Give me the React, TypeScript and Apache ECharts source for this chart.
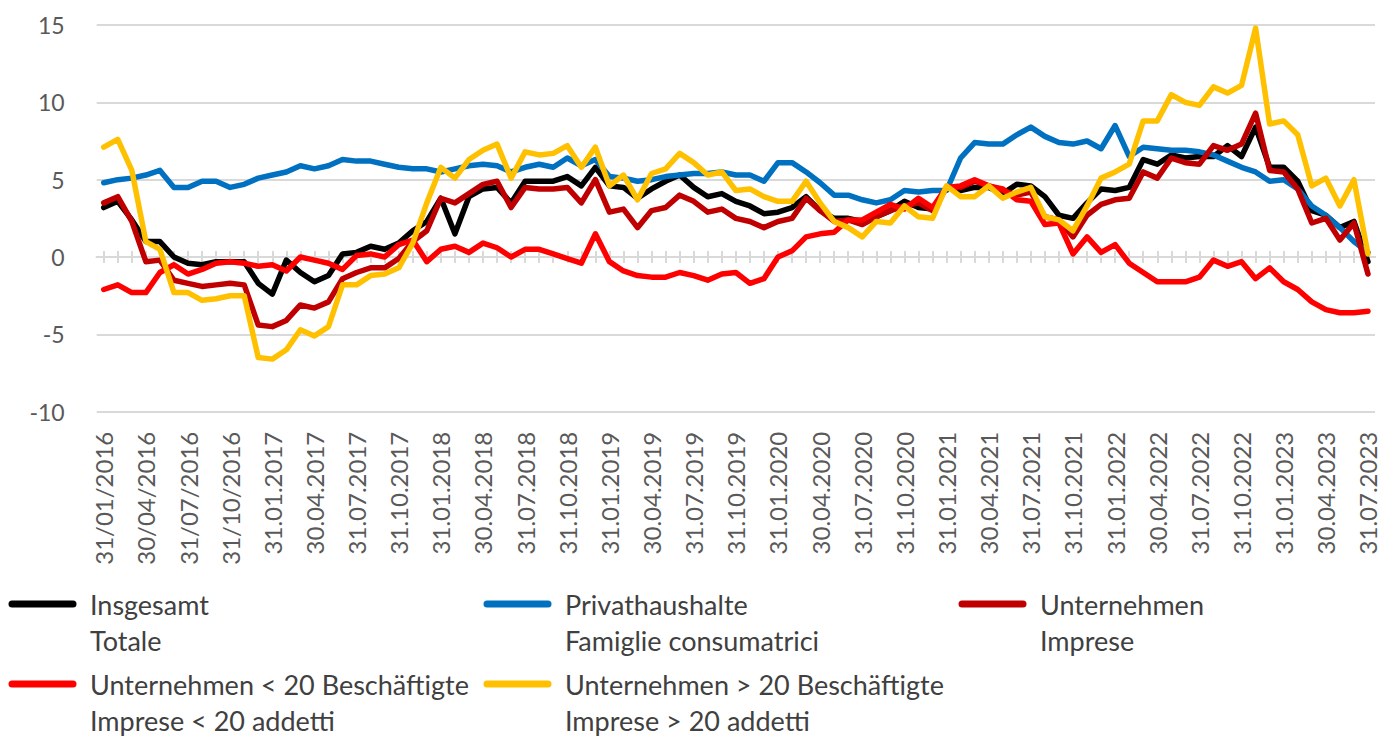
import React, { useEffect, useRef } from 'react';
import * as echarts from 'echarts';

const dates2016 = ['31/01/2016', '29/02/2016', '31/03/2016', '30/04/2016', '31/05/2016', '30/06/2016', '31/07/2016', '31/08/2016', '30/09/2016', '31/10/2016', '30/11/2016', '31/12/2016'];
const dates2017 = ['31.01.2017', '28.02.2017', '31.03.2017', '30.04.2017', '31.05.2017', '30.06.2017', '31.07.2017', '31.08.2017', '30.09.2017', '31.10.2017', '30.11.2017', '31.12.2017'];
const dates2018 = ['31.01.2018', '28.02.2018', '31.03.2018', '30.04.2018', '31.05.2018', '30.06.2018', '31.07.2018', '31.08.2018', '30.09.2018', '31.10.2018', '30.11.2018', '31.12.2018'];
const dates2019 = ['31.01.2019', '28.02.2019', '31.03.2019', '30.04.2019', '31.05.2019', '30.06.2019', '31.07.2019', '31.08.2019', '30.09.2019', '31.10.2019', '30.11.2019', '31.12.2019'];
const dates2020 = ['31.01.2020', '29.02.2020', '31.03.2020', '30.04.2020', '31.05.2020', '30.06.2020', '31.07.2020', '31.08.2020', '30.09.2020', '31.10.2020', '30.11.2020', '31.12.2020'];
const dates2021 = ['31.01.2021', '28.02.2021', '31.03.2021', '30.04.2021', '31.05.2021', '30.06.2021', '31.07.2021', '31.08.2021', '30.09.2021', '31.10.2021', '30.11.2021', '31.12.2021'];
const dates2022 = ['31.01.2022', '28.02.2022', '31.03.2022', '30.04.2022', '31.05.2022', '30.06.2022', '31.07.2022', '31.08.2022', '30.09.2022', '31.10.2022', '30.11.2022', '31.12.2022'];
const dates2023 = ['31.01.2023', '28.02.2023', '31.03.2023', '30.04.2023', '31.05.2023', '30.06.2023', '31.07.2023'];
const categories = [...dates2016, ...dates2017, ...dates2018, ...dates2019, ...dates2020, ...dates2021, ...dates2022, ...dates2023];

// Insgesamt / Totale
const insgesamt = [
  3.2, 3.6, 2.4, 1.0, 1.0, 0.0, -0.4, -0.5, -0.3, -0.3, -0.3, -1.7,
  -2.4, -0.2, -1.0, -1.6, -1.2, 0.2, 0.3, 0.7, 0.5, 0.9, 1.7, 2.3,
  3.8, 1.5, 3.9, 4.4, 4.5, 3.5, 4.9, 4.9, 4.9, 5.2, 4.6, 5.8,
  4.6, 4.5, 3.8, 4.4, 4.9, 5.3, 4.5, 3.9, 4.1, 3.6, 3.3, 2.8,
  2.9, 3.2, 3.9, 3.0, 2.5, 2.5, 2.3, 2.6, 3.0, 3.6, 3.2, 3.1,
  4.5, 4.3, 4.5, 4.5, 4.1, 4.7, 4.6, 3.9, 2.7, 2.5, 3.5, 4.4,
  4.3, 4.5, 6.3, 6.0, 6.6, 6.4, 6.5, 6.5, 7.2, 6.5, 8.4, 5.8,
  5.8, 4.9, 3.0, 2.7, 1.9, 2.3, -0.3,
];
// Privathaushalte / Famiglie consumatrici
const privathaushalte = [
  4.8, 5.0, 5.1, 5.3, 5.6, 4.5, 4.5, 4.9, 4.9, 4.5, 4.7, 5.1,
  5.3, 5.5, 5.9, 5.7, 5.9, 6.3, 6.2, 6.2, 6.0, 5.8, 5.7, 5.7,
  5.5, 5.7, 5.9, 6.0, 5.9, 5.5, 5.8, 6.0, 5.8, 6.4, 5.9, 6.3,
  5.2, 5.1, 4.9, 5.0, 5.2, 5.3, 5.4, 5.4, 5.5, 5.3, 5.3, 4.9,
  6.1, 6.1, 5.5, 4.8, 4.0, 4.0, 3.7, 3.5, 3.7, 4.3, 4.2, 4.3,
  4.3, 6.4, 7.4, 7.3, 7.3, 7.9, 8.4, 7.8, 7.4, 7.3, 7.5, 7.0,
  8.5, 6.5, 7.1, 7.0, 6.9, 6.9, 6.8, 6.6, 6.2, 5.8, 5.5, 4.9,
  5.0, 4.4, 3.3, 2.7, 1.9, 1.0, 0.3,
];
// Unternehmen / Imprese
const unternehmen = [
  3.5, 3.9, 2.3, -0.3, -0.2, -1.5, -1.7, -1.9, -1.8, -1.7, -1.8, -4.4,
  -4.5, -4.1, -3.1, -3.3, -2.9, -1.4, -1.0, -0.7, -0.7, -0.1, 1.0, 1.7,
  3.8, 3.5, 4.1, 4.7, 4.9, 3.2, 4.5, 4.4, 4.4, 4.5, 3.5, 5.0,
  2.9, 3.1, 1.9, 3.0, 3.2, 4.0, 3.6, 2.9, 3.1, 2.5, 2.3, 1.9,
  2.3, 2.5, 3.8, 3.0, 2.3, 2.4, 2.1, 2.6, 3.0, 3.3, 3.5, 3.0,
  4.5, 4.5, 4.9, 4.6, 4.3, 4.0, 4.2, 2.6, 2.4, 1.3, 2.7, 3.4,
  3.7, 3.8, 5.5, 5.1, 6.4, 6.1, 6.0, 7.2, 6.9, 7.3, 9.3, 5.6,
  5.5, 4.4, 2.2, 2.5, 1.1, 2.2, -1.1,
];
// Unternehmen < 20 Beschäftigte / Imprese < 20 addetti
const unternehmenKlein = [
  -2.1, -1.8, -2.3, -2.3, -1.0, -0.5, -1.1, -0.8, -0.4, -0.3, -0.4, -0.6,
  -0.5, -0.9, 0.0, -0.2, -0.4, -0.8, 0.1, 0.2, 0.0, 0.8, 1.1, -0.3,
  0.5, 0.7, 0.3, 0.9, 0.6, 0.0, 0.5, 0.5, 0.2, -0.1, -0.4, 1.5,
  -0.3, -0.9, -1.2, -1.3, -1.3, -1.0, -1.2, -1.5, -1.1, -1.0, -1.7, -1.4,
  0.0, 0.4, 1.3, 1.5, 1.6, 2.4, 2.4, 2.9, 3.4, 3.1, 3.8, 3.2,
  4.5, 4.6, 5.0, 4.6, 4.4, 3.7, 3.6, 2.1, 2.2, 0.2, 1.3, 0.3,
  0.8, -0.4, -1.0, -1.6, -1.6, -1.6, -1.3, -0.2, -0.6, -0.3, -1.4, -0.7,
  -1.6, -2.1, -2.9, -3.4, -3.6, -3.6, -3.5,
];
// Unternehmen > 20 Beschäftigte / Imprese > 20 addetti
const unternehmenGross = [
  7.1, 7.6, 5.6, 1.0, 0.5, -2.3, -2.3, -2.8, -2.7, -2.5, -2.5, -6.5,
  -6.6, -6.0, -4.7, -5.1, -4.5, -1.8, -1.8, -1.2, -1.1, -0.7, 0.9, 3.5,
  5.8, 5.1, 6.3, 6.9, 7.3, 5.1, 6.8, 6.6, 6.7, 7.2, 5.8, 7.1,
  4.6, 5.3, 3.7, 5.4, 5.7, 6.7, 6.1, 5.3, 5.5, 4.3, 4.4, 3.9,
  3.6, 3.6, 4.9, 3.5, 2.3, 1.9, 1.3, 2.3, 2.2, 3.3, 2.6, 2.5,
  4.6, 3.9, 3.9, 4.6, 3.8, 4.2, 4.5, 2.6, 2.4, 1.7, 3.3, 5.1,
  5.5, 6.0, 8.8, 8.8, 10.5, 10.0, 9.8, 11.0, 10.6, 11.1, 14.8, 8.6,
  8.8, 7.9, 4.6, 5.1, 3.3, 5.0, 0.2,
];

const seriesNames = [
  'Insgesamt',
  'Privathaushalte',
  'Unternehmen',
  'Unternehmen < 20 Beschäftigte',
  'Unternehmen > 20 Beschäftigte',
];
const seriesSubNames = [
  'Totale',
  'Famiglie consumatrici',
  'Imprese',
  'Imprese < 20 addetti',
  'Imprese > 20 addetti',
];
const seriesColors = ['#000000', '#0070C0', '#C00000', '#FF0000', '#FFC000'];
const seriesData = [insgesamt, privathaushalte, unternehmen, unternehmenKlein, unternehmenGross];

const FONT = 'Lato, "Noto Sans", sans-serif';
const GRID_COLOR = '#d9d9d9';

export default function App() {
  const ref = useRef<HTMLDivElement>(null);

  useEffect(() => {
    if (!ref.current) return;
    const chart = echarts.init(ref.current, undefined, { renderer: 'svg' });

    const legendIconX = [12, 487, 962];
    const legendTextX = [90, 565, 1040];
    const legendRowY = [604, 684];
    const graphics: any[] = [];
    seriesNames.forEach((name, k) => {
      const col = k % 3;
      const row = Math.floor(k / 3);
      const y = legendRowY[row];
      graphics.push({
        type: 'line',
        shape: { x1: legendIconX[col], y1: y, x2: legendIconX[col] + 61, y2: y },
        style: { stroke: seriesColors[k], lineWidth: 7, lineCap: 'round' },
      });
      graphics.push({
        type: 'text',
        x: legendTextX[col],
        y: y,
        style: { text: name, fontSize: 27, fontFamily: FONT, fill: '#404040', verticalAlign: 'middle' },
      });
      graphics.push({
        type: 'text',
        x: legendTextX[col],
        y: y + 36,
        style: { text: seriesSubNames[k], fontSize: 27, fontFamily: FONT, fill: '#404040', verticalAlign: 'middle' },
      });
    });

    const tickAxis = (inside: boolean) => ({
      type: 'category',
      data: categories,
      boundaryGap: true,
      position: 'bottom',
      axisLine: { show: true, onZero: true, onZeroAxisIndex: 0, lineStyle: { color: GRID_COLOR, width: 2 } },
      axisTick: { show: true, alignWithLabel: true, interval: 0, inside, length: 6, lineStyle: { color: GRID_COLOR, width: 2 } },
      axisLabel: { show: false },
      splitLine: { show: false },
    });

    chart.setOption({
      animation: false,
      backgroundColor: '#ffffff',
      grid: { left: 96.7, right: 12, top: 25, bottom: 324.3, containLabel: false },
      xAxis: [
        {
          type: 'category',
          data: categories,
          boundaryGap: true,
          position: 'bottom',
          axisLine: { show: false, onZero: false },
          axisTick: { show: false },
          splitLine: { show: false },
          axisLabel: {
            interval: 2,
            rotate: 90,
            margin: 20,
            fontSize: 24,
            fontFamily: FONT,
            color: '#595959',
          },
        },
        tickAxis(false),
        tickAxis(true),
      ],
      yAxis: {
        type: 'value',
        min: -10,
        max: 15,
        interval: 5,
        axisLine: { show: false },
        axisTick: { show: false },
        axisLabel: { fontSize: 23, fontFamily: FONT, color: '#595959', margin: 32 },
        splitLine: { show: true, lineStyle: { color: GRID_COLOR, width: 2 } },
      },
      series: seriesNames.map((name, k) => ({
        name,
        type: 'line',
        xAxisIndex: 0,
        yAxisIndex: 0,
        data: seriesData[k],
        symbol: 'none',
        showSymbol: false,
        lineStyle: { color: seriesColors[k], width: 5.5, join: 'round', cap: 'round' },
        itemStyle: { color: seriesColors[k] },
        z: 3 + k,
      })),
      graphic: graphics,
    });

    return () => chart.dispose();
  }, []);

  return (
    <div
      ref={ref}
      style={{ position: 'absolute', left: 0, top: 0, width: 1387, height: 736 }}
    />
  );
}
